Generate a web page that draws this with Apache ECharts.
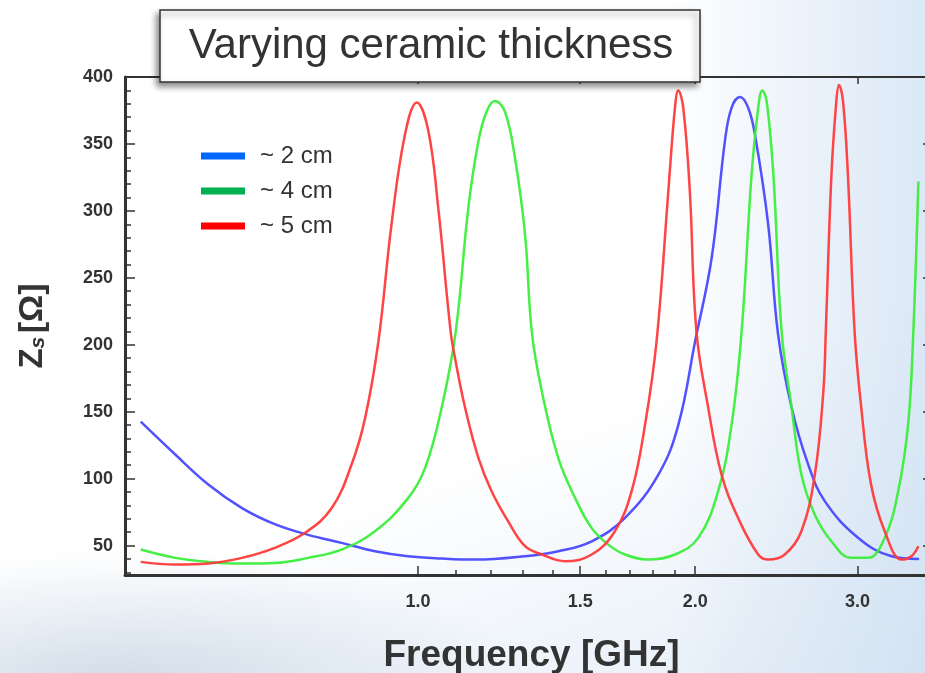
<!DOCTYPE html>
<html>
<head>
<meta charset="utf-8">
<script src="https://cdn.jsdelivr.net/npm/echarts@6/dist/echarts.min.js"></script>
<style>
  html, body { margin: 0; padding: 0; }
  body {
    width: 925px; height: 673px; overflow: hidden;
    background:
      radial-gradient(ellipse 420px 140px at 120px 690px, rgba(200,214,228,0.85), rgba(200,214,228,0) 100%),
      linear-gradient(160deg, rgba(255,255,255,0) 62%, rgba(205,222,240,0.55) 100%),
      linear-gradient(90deg, #ffffff 0%, #ffffff 72%, #dbe8f6 100%);
  }
  #chart { width: 925px; height: 673px; }
</style>
</head>
<body>
<div id="chart"></div>
<script>
// ---- data (frequency in GHz, Zs in Ohm) ----
const seriesNames = ['~ 2 cm', '~ 4 cm', '~ 5 cm'];

const freq2cm = [0.5, 0.545, 0.592, 0.644, 0.699, 0.76, 0.826, 0.898, 0.975, 1.061, 1.153, 1.307, 1.42, 1.544, 1.678, 1.824, 1.917, 2.0, 2.084, 2.154, 2.19, 2.237, 2.283, 2.322, 2.4, 2.46, 2.545, 2.653, 2.766, 3.007, 3.268, 3.5];
const zs2cm   = [142.5, 118, 95.6, 78, 66, 58, 52, 45.7, 42, 40.3, 39.5, 42, 45.7, 53.2, 70.7, 103, 140, 203, 265, 352, 377, 385, 377, 357, 290, 208, 153, 110.5, 83, 55.7, 42, 40];

const freq4cm = [0.5, 0.545, 0.592, 0.644, 0.699, 0.76, 0.826, 0.898, 0.976, 1.018, 1.061, 1.099, 1.134, 1.163, 1.187, 1.212, 1.243, 1.274, 1.307, 1.329, 1.363, 1.42, 1.481, 1.544, 1.609, 1.678, 1.779, 1.901, 2.015, 2.118, 2.19, 2.246, 2.302, 2.341, 2.365, 2.391, 2.432, 2.482, 2.545, 2.608, 2.697, 2.811, 2.954, 3.08, 3.212, 3.322, 3.405, 3.447, 3.494];
const zs4cm   = [47, 40.8, 37.8, 36.6, 37, 40.8, 47, 60.7, 85.6, 108, 153, 210, 302, 352, 374, 382, 374, 340, 282, 210, 165, 115.5, 85.6, 63, 50.7, 43.3, 39.5, 43.3, 55.7, 90.6, 140, 210, 326, 377, 390, 382, 326, 210, 153, 103, 73, 53.2, 40.8, 40.8, 55.7, 90.6, 140, 203, 322];

const freq5cm = [0.5, 0.545, 0.592, 0.644, 0.699, 0.754, 0.806, 0.847, 0.876, 0.906, 0.936, 0.968, 0.997, 1.026, 1.052, 1.085, 1.097, 1.125, 1.163, 1.202, 1.253, 1.307, 1.363, 1.444, 1.544, 1.636, 1.706, 1.764, 1.816, 1.87, 1.901, 1.917, 1.941, 1.973, 2.006, 2.066, 2.136, 2.226, 2.341, 2.401, 2.502, 2.608, 2.697, 2.755, 2.772, 2.811, 2.846, 2.865, 2.894, 2.93, 2.979, 3.029, 3.104, 3.212, 3.351, 3.433, 3.494];
const zs5cm   = [37.8, 35.8, 36.6, 40.8, 48.3, 59.5, 78, 110.5, 145, 203, 290, 357, 381, 360, 302, 210, 190, 153, 115.5, 90.6, 68, 49.5, 43.3, 38.3, 43.3, 60.7, 90.6, 140, 203, 315, 377, 390, 377, 315, 210, 153, 103, 70.7, 43.3, 39.5, 43.3, 60.7, 103, 165, 210, 326, 382, 394, 382, 326, 210, 153, 95.6, 60.7, 39.5, 42, 49.5];

const xMajorTicks = [1.0, 1.5, 2.0, 3.0];
const xMinorTicks = [1.1, 1.2, 1.3, 1.4, 1.6, 1.7, 1.8, 1.9];
const yMajorTicks = [50, 100, 150, 200, 250, 300, 350, 400];
const yMinorTicks = [30, 40, 60, 70, 80, 90, 110, 120, 130, 140, 160, 170, 180, 190, 210, 220, 230, 240, 260, 270, 280, 290, 310, 320, 330, 340, 360, 370, 380, 390];

const lineColors = ['#4848ff', '#3cee3c', '#ff3a3a'];
const legendColors = ['#0066ff', '#00b050', '#ff0000'];

const titleText = 'Varying ceramic thickness';
const xName = 'Frequency [GHz]';

// ---- build ----
const zip = (xs, ys) => xs.map((x, i) => [x, ys[i]]);
const allData = [zip(freq2cm, zs2cm), zip(freq4cm, zs4cm), zip(freq5cm, zs5cm)];

const X_MIN = 0.4807, X_MAX = 3.615, Y_MIN = 28, Y_MAX = 400;
const axisColor = '#333333';
const labelFont = { fontFamily: 'Liberation Sans', fontSize: 18, fontWeight: 'bold', color: '#333333' };

const baseX = {
  type: 'log', logBase: 10, min: X_MIN, max: X_MAX, gridIndex: 0,
  splitLine: { show: false }, minorTick: { show: false }, minorSplitLine: { show: false }
};
const baseY = {
  type: 'value', min: Y_MIN, max: Y_MAX, gridIndex: 0,
  splitLine: { show: false }
};

const chart = echarts.init(document.getElementById('chart'), null, { renderer: 'canvas' });
chart.setOption({
  backgroundColor: 'transparent',
  animation: false,
  grid: { left: 125, right: -7, top: 77, bottom: 98, containLabel: false, outerBoundsMode: 'none' },
  legend: {
    orient: 'vertical', left: 196, top: 137, icon: 'rect',
    itemWidth: 44, itemHeight: 7, itemGap: 7, selectedMode: false,
    textStyle: { fontFamily: 'Liberation Sans', fontSize: 24, color: '#333', lineHeight: 28, padding: [0, 0, 0, 10] },
    data: seriesNames.map((n, i) => ({ name: n, itemStyle: { color: legendColors[i] } }))
  },
  xAxis: [
    Object.assign({}, baseX, {
      position: 'bottom',
      name: xName, nameLocation: 'middle', nameGap: 62,
      nameTextStyle: { fontFamily: 'Liberation Sans', fontSize: 37, fontWeight: 'bold', color: '#333', padding: [0, 0, 0, 6] },
      axisLine: { show: true, lineStyle: { color: axisColor, width: 3 } },
      axisTick: { show: true, inside: true, length: 9, customValues: xMajorTicks, lineStyle: { color: axisColor, width: 1.5 } },
      axisLabel: Object.assign({ show: true, margin: 18, customValues: xMajorTicks, formatter: v => Number(v).toFixed(1) }, labelFont)
    }),
    Object.assign({}, baseX, {
      position: 'bottom',
      axisLine: { show: false },
      axisTick: { show: true, inside: true, length: 5, customValues: xMinorTicks, lineStyle: { color: axisColor, width: 1.5 } },
      axisLabel: { show: false }
    }),
    Object.assign({}, baseX, {
      position: 'top',
      axisLine: { show: true, lineStyle: { color: axisColor, width: 2 } },
      axisTick: { show: true, inside: true, length: 7, customValues: xMajorTicks, lineStyle: { color: axisColor, width: 1.5 } },
      axisLabel: { show: false }
    })
  ],
  yAxis: [
    Object.assign({}, baseY, {
      position: 'left',
      name: '{z|Z}{s|s} {b|[Ω]}', nameLocation: 'middle', nameGap: 75, nameRotate: 90,
      nameTextStyle: {
        color: '#333',
        rich: {
          z: { fontFamily: 'Liberation Sans', fontSize: 33, fontWeight: 'bold', color: '#333' },
          s: { fontFamily: 'Liberation Sans', fontSize: 21, fontWeight: 'bold', fontStyle: 'italic', color: '#333', padding: [10, 0, 0, 0] },
          b: { fontFamily: 'Liberation Sans', fontSize: 34, fontWeight: 'bold', color: '#333' }
        }
      },
      axisLine: { show: true, lineStyle: { color: axisColor, width: 3 } },
      axisTick: { show: true, inside: true, length: 10, customValues: yMajorTicks, lineStyle: { color: axisColor, width: 1.5 } },
      axisLabel: Object.assign({ show: true, margin: 12, customValues: yMajorTicks }, labelFont)
    }),
    Object.assign({}, baseY, {
      position: 'left',
      axisLine: { show: false },
      axisTick: { show: true, inside: true, length: 6, customValues: yMinorTicks, lineStyle: { color: axisColor, width: 1.5 } },
      axisLabel: { show: false }
    }),
    Object.assign({}, baseY, {
      position: 'right',
      axisLine: { show: true, lineStyle: { color: axisColor, width: 2 } },
      axisTick: { show: true, inside: true, length: 9, customValues: yMajorTicks, lineStyle: { color: axisColor, width: 1.5 } },
      axisLabel: { show: false }
    })
  ],
  series: allData.map((d, i) => ({
    name: seriesNames[i], type: 'line', xAxisIndex: 0, yAxisIndex: 0,
    data: d, smooth: 0.4, showSymbol: false, symbol: 'none',
    itemStyle: { color: lineColors[i] },
    lineStyle: { color: lineColors[i], width: 2.5, opacity: 0.95 },
    z: 3 + i
  })),
  graphic: [
    {
      type: 'rect', z: 100, zlevel: 0,
      shape: { x: 160, y: 10, width: 540, height: 72 },
      style: { fill: '#ffffff', stroke: '#333', lineWidth: 1.5, shadowBlur: 6, shadowColor: 'rgba(0,0,0,0.45)', shadowOffsetX: -3, shadowOffsetY: 4 }
    },
    {
      type: 'text', z: 101, zlevel: 0,
      x: 431, y: 46,
      style: { text: titleText, fontFamily: 'Liberation Sans', fontSize: 42, fill: '#333', align: 'center', verticalAlign: 'middle' }
    }
  ]
});
</script>
</body>
</html>
